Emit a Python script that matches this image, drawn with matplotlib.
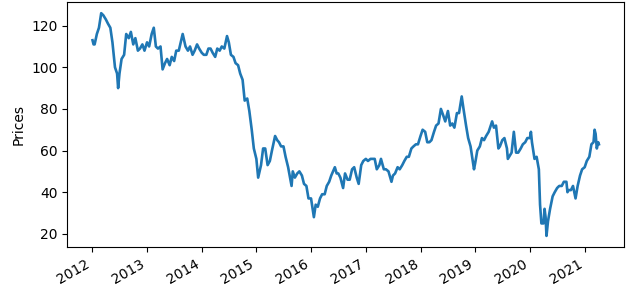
import matplotlib
matplotlib.use('Agg')
import matplotlib.pyplot as plt
import pandas as pd

# Brent prices (roughly twice a month, extra points at spikes)
dates_2012 = ['2012-01-03', '2012-01-10', '2012-01-17', '2012-02-01', '2012-02-15', '2012-03-01',
              '2012-03-15', '2012-04-01', '2012-04-15', '2012-05-01', '2012-05-15', '2012-06-01',
              '2012-06-15', '2012-06-22', '2012-07-01', '2012-07-15', '2012-08-01', '2012-08-15',
              '2012-09-01', '2012-09-15', '2012-10-01', '2012-10-15', '2012-11-01', '2012-11-15',
              '2012-12-01', '2012-12-15']
prices_2012 = [113, 111, 111, 116, 119, 126, 125, 123, 121, 119, 112, 100,
               97, 90, 97, 104, 106, 116, 114, 117, 111, 114, 108, 109,
               111, 108]

dates_2013 = ['2013-01-01', '2013-01-15', '2013-02-01', '2013-02-15', '2013-03-01', '2013-03-15',
              '2013-04-01', '2013-04-15', '2013-05-01', '2013-05-15', '2013-06-01', '2013-06-15',
              '2013-07-01', '2013-07-15', '2013-08-01', '2013-08-27', '2013-09-15', '2013-10-01',
              '2013-10-15', '2013-11-01', '2013-11-15', '2013-12-01', '2013-12-15']
prices_2013 = [112, 110, 116, 119, 110, 109, 110, 99, 102, 104, 101, 105,
               103, 108, 108, 116, 110, 108, 110, 106, 108, 111, 109]

dates_2014 = ['2014-01-01', '2014-01-15', '2014-02-01', '2014-02-15', '2014-03-01', '2014-03-15',
              '2014-04-01', '2014-04-15', '2014-05-01', '2014-05-15', '2014-06-01', '2014-06-19',
              '2014-07-01', '2014-07-15', '2014-08-01', '2014-08-15', '2014-09-01', '2014-09-15',
              '2014-10-01', '2014-10-15', '2014-11-01', '2014-11-15', '2014-12-01', '2014-12-15']
prices_2014 = [107, 106, 106, 109, 109, 107, 105, 109, 108, 110, 109, 115,
               112, 106, 105, 102, 101, 97, 94, 84, 85, 79, 70, 61]

dates_2015 = ['2015-01-01', '2015-01-13', '2015-02-01', '2015-02-15', '2015-03-01', '2015-03-17',
              '2015-04-01', '2015-04-15', '2015-05-06', '2015-05-20', '2015-06-01', '2015-06-15',
              '2015-07-01', '2015-07-15', '2015-08-01', '2015-08-24', '2015-09-01', '2015-09-15',
              '2015-10-01', '2015-10-15', '2015-11-01', '2015-11-15', '2015-12-01', '2015-12-15']
prices_2015 = [56, 47, 53, 61, 61, 53, 55, 60, 67, 65, 64, 62,
               62, 57, 52, 43, 50, 47, 49, 50, 48, 44, 43, 37]

dates_2016 = ['2016-01-01', '2016-01-20', '2016-02-01', '2016-02-15', '2016-03-01', '2016-03-15',
              '2016-04-01', '2016-04-15', '2016-05-01', '2016-05-15', '2016-06-08', '2016-06-20',
              '2016-07-01', '2016-07-15', '2016-08-02', '2016-08-15', '2016-09-01', '2016-09-15',
              '2016-10-01', '2016-10-15', '2016-11-01', '2016-11-14', '2016-12-01', '2016-12-15']
prices_2016 = [37, 28, 34, 33, 37, 39, 39, 43, 45, 48, 52, 49,
               49, 47, 42, 49, 46, 46, 51, 52, 47, 44, 53, 55]

dates_2017 = ['2017-01-01', '2017-01-15', '2017-02-01', '2017-02-15', '2017-03-01', '2017-03-15',
              '2017-04-01', '2017-04-12', '2017-05-01', '2017-05-15', '2017-06-01', '2017-06-21',
              '2017-07-01', '2017-07-15', '2017-08-01', '2017-08-15', '2017-09-01', '2017-09-15',
              '2017-10-01', '2017-10-15', '2017-11-01', '2017-11-15', '2017-12-01', '2017-12-15']
prices_2017 = [56, 55, 56, 56, 56, 51, 53, 56, 51, 51, 50, 45,
               48, 49, 52, 51, 53, 55, 57, 57, 61, 62, 63, 63]

dates_2018 = ['2018-01-01', '2018-01-15', '2018-02-01', '2018-02-15', '2018-03-01', '2018-03-15',
              '2018-04-01', '2018-04-15', '2018-05-01', '2018-05-17', '2018-06-01', '2018-06-15',
              '2018-07-03', '2018-07-18', '2018-08-01', '2018-08-15', '2018-09-01', '2018-09-15',
              '2018-10-03', '2018-10-15', '2018-11-01', '2018-11-15', '2018-12-01', '2018-12-24']
prices_2018 = [67, 70, 69, 64, 64, 65, 69, 72, 73, 80, 77, 74,
               79, 72, 73, 71, 78, 78, 86, 80, 72, 66, 62, 51]

dates_2019 = ['2019-01-01', '2019-01-15', '2019-02-01', '2019-02-15', '2019-03-01', '2019-03-15',
              '2019-04-01', '2019-04-24', '2019-05-06', '2019-05-20', '2019-06-05', '2019-06-15',
              '2019-07-01', '2019-07-15', '2019-08-01', '2019-08-07', '2019-09-01', '2019-09-16',
              '2019-10-01', '2019-10-15', '2019-11-01', '2019-11-15', '2019-12-01', '2019-12-15']
prices_2019 = [54, 60, 62, 66, 65, 67, 69, 74, 71, 72, 61, 62,
               65, 66, 61, 56, 59, 69, 59, 59, 61, 63, 64, 66]

dates_2020 = ['2020-01-01', '2020-01-08', '2020-01-15', '2020-02-01', '2020-02-15', '2020-03-01',
              '2020-03-09', '2020-03-18', '2020-04-01', '2020-04-08', '2020-04-15', '2020-04-21',
              '2020-05-01', '2020-05-15', '2020-06-01', '2020-06-15', '2020-07-01', '2020-07-15',
              '2020-08-01', '2020-08-15', '2020-09-01', '2020-09-08', '2020-09-15', '2020-10-01',
              '2020-10-15', '2020-11-01', '2020-11-15', '2020-12-01', '2020-12-15']
prices_2020 = [66, 69, 64, 56, 57, 51, 34, 25, 25, 32, 28, 19,
               26, 32, 38, 40, 42, 43, 43, 45, 45, 40, 41, 41,
               43, 37, 43, 48, 51]

dates_2021 = ['2021-01-01', '2021-01-15', '2021-02-01', '2021-02-15', '2021-03-01', '2021-03-08',
              '2021-03-15', '2021-03-23', '2021-04-01', '2021-04-06']
prices_2021 = [52, 55, 57, 63, 64, 70, 68, 61, 64, 63]

dates = (dates_2012 + dates_2013 + dates_2014 + dates_2015 + dates_2016 +
         dates_2017 + dates_2018 + dates_2019 + dates_2020 + dates_2021)
prices = (prices_2012 + prices_2013 + prices_2014 + prices_2015 + prices_2016 +
          prices_2017 + prices_2018 + prices_2019 + prices_2020 + prices_2021)

series = pd.Series(prices, index=pd.to_datetime(dates))

fig, ax = plt.subplots(figsize=(6.28, 2.92), dpi=100)
ax.plot(series.index, series.values, color='#1f77b4', linewidth=1.9)
ax.set_ylabel('Prices')
ax.set_yticks([20, 40, 60, 80, 100, 120])

fig.autofmt_xdate()
fig.subplots_adjust(left=0.107, right=0.994, top=0.993, bottom=0.154)

fig.savefig('out.png', dpi=100)
plt.close(fig)
